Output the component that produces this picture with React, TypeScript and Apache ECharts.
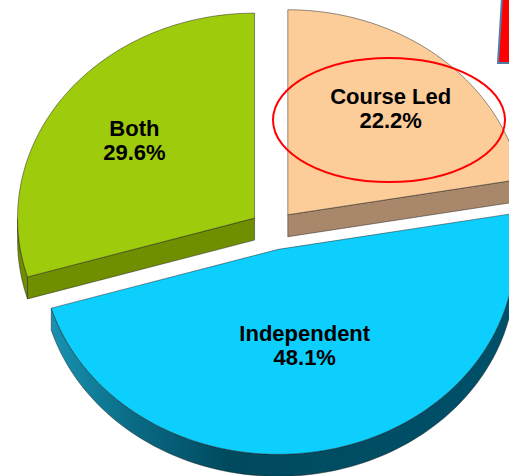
import React, { useEffect, useRef } from "react";
import * as echarts from "echarts";

// Slices in clockwise order starting at 12 o'clock
const categories = ["Course Led", "Independent", "Both"];
const values = [22.2, 48.1, 29.6];
const topColors = ["#fccd99", "#0ccffe", "#9ecb0b"];
const sideColors = ["#a8876a", "#00495d", "#6f8e00"];

// tilted-pie geometry
const CX = 273;
const CY = 230;
const RX = 237;
const RY = 205;
const DEPTH = 22;
const EXPLODE = 23;

const rad = (d: number) => (d * Math.PI) / 180;

function pt(cx: number, cy: number, deg: number, dy = 0): number[] {
  return [cx + RX * Math.sin(rad(deg)), cy - RY * Math.cos(rad(deg)) + dy];
}

function arc(cx: number, cy: number, s: number, e: number, dy: number): number[][] {
  const n = Math.max(2, Math.ceil((e - s) / 1.5));
  const out: number[][] = [];
  for (let k = 0; k <= n; k++) out.push(pt(cx, cy, s + ((e - s) * k) / n, dy));
  return out;
}

const edge = { stroke: "rgba(30,30,30,0.6)", lineWidth: 0.8, lineJoin: "round" };

function wallFill(i: number): any {
  if (i === 1) {
    return new echarts.graphic.LinearGradient(0, 0, 1, 0, [
      { offset: 0, color: "#1892b0" },
      { offset: 0.18, color: "#0a6a84" },
      { offset: 0.38, color: "#004a5e" },
      { offset: 1, color: "#00506a" },
    ]);
  }
  return sideColors[i];
}

export default function App() {
  const ref = useRef<HTMLDivElement>(null);
  useEffect(() => {
    if (!ref.current) return;
    const chart = echarts.init(ref.current, undefined, { renderer: "svg" });
    const total = values.reduce((s, v) => s + v, 0);

    const renderItem = (params: any) => {
      const i = params.dataIndex;
      let a = 0;
      for (let j = 0; j < i; j++) a += (values[j] / total) * 360;
      const b = a + (values[i] / total) * 360;
      const m = (a + b) / 2;
      const ox = CX + EXPLODE * Math.sin(rad(m));
      const oy = CY - EXPLODE * Math.cos(rad(m)) * (RY / RX);
      const base = Math.round((-Math.cos(rad(m)) + 1) * 10) * 10;
      const children: any[] = [];

      // outer wall (front half only)
      const s = Math.max(a, 90);
      const e = Math.min(b, 270);
      if (e > s) {
        const topArc = arc(ox, oy, s, e, 0);
        const botArc = arc(ox, oy, s, e, DEPTH).reverse();
        children.push({
          type: "polygon",
          z2: base,
          shape: { points: topArc.concat(botArc) },
          style: { fill: wallFill(i), ...edge },
        });
      }
      // radial faces facing the viewer
      const face = (ang: number) => {
        const p = pt(ox, oy, ang);
        children.push({
          type: "polygon",
          z2: base + 1,
          shape: {
            points: [
              [ox, oy],
              p,
              [p[0], p[1] + DEPTH],
              [ox, oy + DEPTH],
            ],
          },
          style: { fill: sideColors[i], ...edge },
        });
      };
      if (Math.sin(rad(a)) < -1e-6) face(a);
      if (Math.sin(rad(b)) > 1e-6) face(b);

      // top face
      children.push({
        type: "polygon",
        z2: base + 2,
        shape: { points: [[ox, oy] as number[]].concat(arc(ox, oy, a, b, 0)) },
        style: { fill: topColors[i], ...edge },
      });

      // label at (scaled) centroid of the slice
      const alpha = rad(b - a);
      const f = (1.1 * 4 * Math.sin(alpha / 2)) / (3 * alpha);
      const lx = ox + f * RX * Math.sin(rad(m));
      const ly = oy - f * RY * Math.cos(rad(m));
      children.push({
        type: "text",
        z2: 5000,
        style: {
          text: `${categories[i]}\n${values[i].toFixed(1)}%`,
          x: lx,
          y: ly,
          fill: "#000",
          fontFamily: "Liberation Sans, Arial, sans-serif",
          fontWeight: "bold",
          fontSize: 22,
          lineHeight: 24,
          align: "center",
          verticalAlign: "middle",
        },
      });
      return { type: "group", children };
    };

    chart.setOption({
      animation: false,
      backgroundColor: "#ffffff",
      series: [
        {
          type: "custom",
          coordinateSystem: "none",
          silent: true,
          renderItem,
          data: values.map((v, i) => ({ name: categories[i], value: v })),
        },
      ],
      graphic: [
        {
          type: "ellipse",
          z: 100,
          shape: { cx: 389, cy: 120, rx: 116, ry: 62 },
          style: { fill: "rgba(0,0,0,0)", stroke: "#ff0000", lineWidth: 2 },
        },
        {
          type: "polygon",
          z: 100,
          shape: {
            points: [
              [502, -2],
              [512, -2],
              [512, 63],
              [498, 63],
            ],
          },
          style: { fill: "#ff0000", stroke: "#4f7cab", lineWidth: 2 },
        },
      ],
    });
    return () => chart.dispose();
  }, []);
  return (
    <div
      ref={ref}
      style={{ position: "fixed", left: 0, top: 0, width: 509, height: 476, background: "#fff" }}
    />
  );
}
